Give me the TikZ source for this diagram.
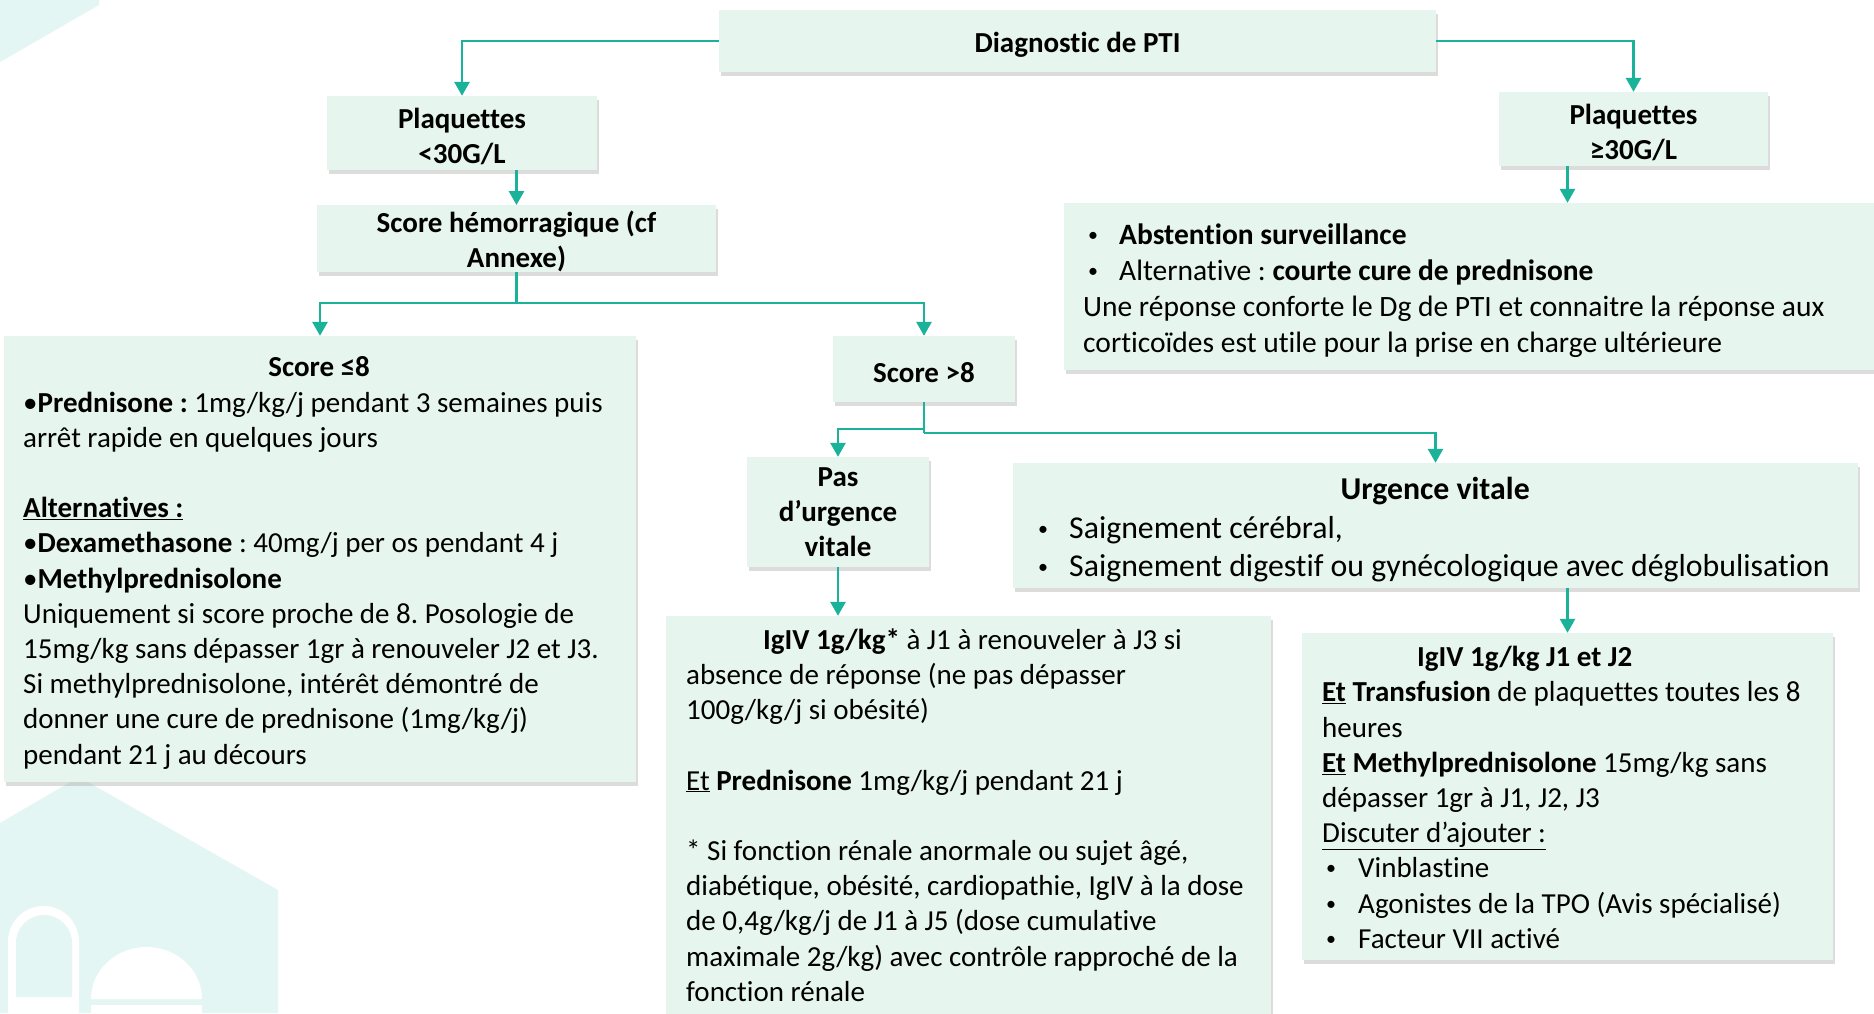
\documentclass[tikz,border=0pt]{standalone}
\usepackage{fontspec}
\setmainfont{Carlito}[Ligatures=NoCommon]
\usetikzlibrary{arrows.meta,shadows,calc}
\definecolor{boxfill}{HTML}{E6F5EE}
\definecolor{arrowc}{HTML}{1AB39A}
\definecolor{housec}{HTML}{E3F6F3}
\newcommand{\bul}{\raisebox{3pt}{\fontsize{20}{20}\selectfont •}}
\newcommand{\tstrut}{\rule{0pt}{27pt}}
\frenchspacing
\begin{document}
\begin{tikzpicture}[x=1pt,y=-1pt,
  box/.style={fill=boxfill, inner sep=0pt, align=center,
    font=\fontsize{29}{35.2}\selectfont\bfseries,
    drop shadow={shadow xshift=2pt,shadow yshift=-4pt,opacity=0.3,fill=black!45}},
  txt/.style={inner sep=0pt, align=left, anchor=west, font=\fontsize{29}{35.2}\selectfont},
  conn/.style={draw=arrowc, line width=2.8pt},
  arr/.style={conn, -{Triangle[width=15pt,length=14pt]}}
]
\useasboundingbox (0,0) rectangle (1874,1013);
\fill[white] (0,0) rectangle (1874,1013);
% background decorations
\fill[housec] (0,0) -- (99,0) -- (99,5) -- (0,62) -- cycle;
\fill[housec] (0,823) -- (79,777) -- (278,890) -- (278,1013) -- (0,1013) -- cycle;
\fill[white] (8,1013) -- (8,941.5) arc[start angle=180,end angle=360,radius=35.5] -- (79,1013) -- cycle;
\fill[housec] (16,997) -- (16,943) arc[start angle=180,end angle=360,radius=28] -- (72,997) -- cycle;
\fill[white] (91,999) arc[start angle=180,end angle=360,x radius=55.5,y radius=52] -- cycle;
\fill[white] (91,1005) rectangle (202,1013);

% small boxes
\node[box, minimum width=717pt, minimum height=62pt] (diag) at (1077.5,41) {\tstrut Diagnostic de PTI};
\node[box, minimum width=270pt, minimum height=74pt] (p1) at (462,133) {\tstrut Plaquettes\\<30G/L};
\node[box, minimum width=269pt, minimum height=74pt] (p2) at (1633.5,129) {\tstrut Plaquettes\\≥30G/L};
\node[box, minimum width=399pt, minimum height=61pt] (sh) at (516.5,238.5) {\tstrut Score hémorragique (cf\\Annexe)};
\node[box, minimum width=182pt, minimum height=66pt] (s2) at (924,369) {\tstrut Score >8};
\node[box, minimum width=182pt, minimum height=110pt] (pas) at (838,512) {Pas\\d’urgence\\vitale};

% large boxes
\node[box, minimum width=632pt, minimum height=446pt] (s1) at (320,559) {};
\node[box, minimum width=605pt, minimum height=398pt] (mid) at (968.5,815) {};
\node[box, minimum width=531pt, minimum height=327pt] (j12) at (1567.5,796.5) {};
\node[box, minimum width=820pt, minimum height=167pt] (abst) at (1474,286.5) {};
\node[box, minimum width=845pt, minimum height=125pt] (urg) at (1435.5,525.5) {};

\node[txt] (s1t) at (23,563) {\makebox[592pt][c]{\textbf{Score ≤8}}\\
•\textbf{Prednisone :} 1mg/kg/j pendant 3 semaines puis\\
arrêt rapide en quelques jours\\
\mbox{}\\
\textbf{\underline{Alternatives :}}\\
•\textbf{Dexamethasone} : 40mg/j per os pendant 4 j\\
•\textbf{Methylprednisolone}\\
Uniquement si score proche de 8. Posologie de\\
15mg/kg sans dépasser 1gr à renouveler J2 et J3.\\
Si methylprednisolone, intérêt démontré de\\
donner une cure de prednisone (1mg/kg/j)\\
pendant 21 j au décours};

\node[txt] (midt) at (686,815) {\hspace*{77pt}\textbf{IgIV 1g/kg*} à J1 à renouveler à J3 si\\
absence de réponse (ne pas dépasser\\
100g/kg/j si obésité)\\
\mbox{}\\
\underline{Et} \textbf{Prednisone} 1mg/kg/j pendant 21 j\\
\mbox{}\\
* Si fonction rénale anormale ou sujet âgé,\\
diabétique, obésité, cardiopathie, IgIV à la dose\\
de 0,4g/kg/j de J1 à J5 (dose cumulative\\
maximale 2g/kg) avec contrôle rapproché de la\\
fonction rénale};

\node[txt] (j12t) at (1322,797.5) {\hspace*{95pt}\textbf{IgIV 1g/kg J1 et J2}\\
\textbf{\underline{Et} Transfusion} de plaquettes toutes les 8\\
heures\\
\textbf{\underline{Et} Methylprednisolone} 15mg/kg sans\\
dépasser 1gr à J1, J2, J3\\
\underline{Discuter d’ajouter :}\\
\hspace*{4pt}\makebox[32pt][l]{\bul}Vinblastine\\
\hspace*{4pt}\makebox[32pt][l]{\bul}Agonistes de la TPO (Avis spécialisé)\\
\hspace*{4pt}\makebox[32pt][l]{\bul}Facteur VII activé};

\node[txt, font=\fontsize{29.5}{36}\selectfont] (abstt) at (1083,290.5) {\hspace*{5pt}\makebox[31pt][l]{\bul}\textbf{Abstention surveillance}\\
\hspace*{5pt}\makebox[31pt][l]{\bul}Alternative : \textbf{courte cure de prednisone}\\
Une réponse conforte le Dg de PTI et connaitre la réponse aux\\
corticoïdes est utile pour la prise en charge ultérieure};

\node[txt, font=\fontsize{31.8}{38.5}\selectfont] (urgt) at (1038,530) {\makebox[794pt][c]{\textbf{Urgence vitale}}\\
\makebox[31pt][l]{\bul}Saignement cérébral,\\
\makebox[31pt][l]{\bul}Saignement digestif ou gynécologique avec déglobulisation};

% connectors
\draw[arr] (diag.west) -| (p1.north);
\draw[arr] (diag.east) -| (p2.north);
\draw[arr] (p1.south -| sh.north) -- (sh.north);
\coordinate (j1) at (516.5,303);
\draw[conn] (sh.south) -- (j1);
\draw[arr] (j1) -| (s1.north);
\draw[arr] (j1) -| (s2.north);
\draw[arr] (p2.south -| j12.north) -- (abst.north -| j12.north);
\coordinate (j2) at (924,433);
\coordinate (j3) at (924,429);
\draw[conn] (s2.south) -- (j2);
\draw[arr] (j3) -| (pas.north);
\draw[arr] (j2) -| (urg.north);
\draw[arr] (pas.south) -- (pas.south |- mid.north);
\draw[arr] (urg.south -| j12.north) -- (j12.north);
\end{tikzpicture}
\end{document}
